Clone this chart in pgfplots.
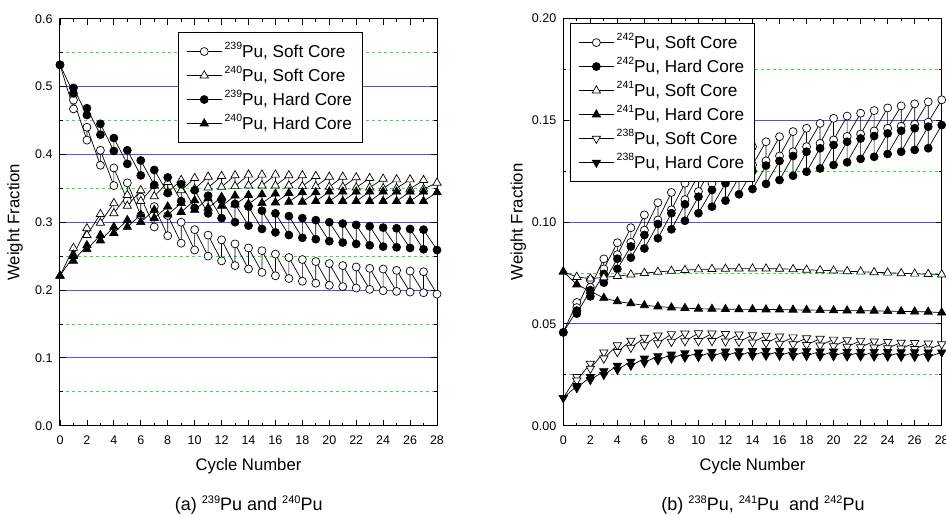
\documentclass[border=0pt]{standalone}
\usepackage{fontspec}
\setmainfont{Liberation Sans}
\usepackage{pgfplots}
\pgfplotsset{compat=1.18}
\definecolor{gridblue}{RGB}{80,80,245}
\definecolor{gridgreen}{RGB}{40,235,40}
\newcommand{\sups}[1]{\raisebox{0.42em}{\fontsize{10.5}{10.5}\selectfont #1}}
\newcommand{\supc}[1]{\raisebox{0.42em}{\fontsize{11}{11}\selectfont #1}}
\pgfplotsset{
  myax/.style={
    scale only axis, clip=false,
    xmin=0, xmax=28, xtick={0,2,...,28}, minor x tick num=1,
    minor y tick num=1,
    /pgf/number format/assume math mode=true,
    tick label style={font=\fontsize{12.5}{14}\selectfont},
    xticklabel style={yshift=-7pt},
    label style={font=\fontsize{16.7}{19}\selectfont},
    xlabel={Cycle Number}, ylabel={Weight Fraction},
    xlabel style={at={(axis description cs:0.5,0)}, anchor=center, yshift=-40pt},
    ylabel style={at={(axis description cs:-0.119,0.5)}, anchor=center},
    ymajorgrids, yminorgrids,
    major grid style={gridblue, line width=0.9pt},
    minor grid style={gridgreen, dashed, line width=0.8pt},
    major tick length=6pt, minor tick length=3pt,
    every tick/.style={black, line width=0.8pt},
    axis line style={line width=1pt},
    every axis plot/.append style={black, line width=0.7pt},
    legend cell align=left,
    legend style={font=\fontsize{17.2}{19}\selectfont, draw=black, line width=0.8pt,
      anchor=north west, inner xsep=8pt, inner ysep=7pt,
      nodes={inner sep=2.5pt, text height=15pt, text depth=4pt}},
    legend image code/.code={\draw[mark repeat=2,mark phase=2] plot coordinates {(0pt,0pt)(17.5pt,0pt)(35pt,0pt)};},
  },
  oc/.style={mark=*, mark size=4pt, mark options={fill=white, draw=black, line width=0.7pt}},
  fc/.style={mark=*, mark size=4pt, mark options={fill=black, draw=black}},
  ot/.style={mark=triangle*, mark size=4.8pt, mark options={fill=white, draw=black, line width=0.7pt}},
  ft/.style={mark=triangle*, mark size=4.8pt, mark options={fill=black, draw=black}},
  od/.style={mark=triangle*, mark size=4.8pt, mark options={fill=white, draw=black, line width=0.7pt, rotate=180}},
  fd/.style={mark=triangle*, mark size=4.8pt, mark options={fill=black, draw=black, rotate=180}},
}
\begin{document}
\begin{tikzpicture}
\useasboundingbox (0,0) rectangle (946pt,515pt);
% ---------------- panel (a)
\begin{axis}[myax, at={(60pt,89.3pt)}, anchor=south west, width=377pt, height=407pt,
  ymin=0, ymax=0.6, ytick={0,0.1,0.2,0.3,0.4,0.5,0.6},
  yticklabel style={xshift=-4pt, /pgf/number format/.cd, fixed, fixed zerofill, precision=1},
  legend style={at={(0.313,0.967)}}]
\addplot[oc] coordinates {(0,0.532) (1,0.467)(1,0.480) (2,0.421)(2,0.440) (3,0.384)(3,0.406) (4,0.354)(4,0.380) (5,0.332)(5,0.358) (6,0.310)(6,0.337) (7,0.293)(7,0.323) (8,0.280)(8,0.310) (9,0.269)(9,0.300) (10,0.259)(10,0.289) (11,0.250)(11,0.281) (12,0.243)(12,0.274) (13,0.236)(13,0.268) (14,0.231)(14,0.262) (15,0.226)(15,0.258) (16,0.221)(16,0.253) (17,0.217)(17,0.248) (18,0.213)(18,0.245) (19,0.210)(19,0.242) (20,0.207)(20,0.239) (21,0.205)(21,0.236) (22,0.203)(22,0.234) (23,0.201)(23,0.232) (24,0.199)(24,0.231) (25,0.198)(25,0.229) (26,0.197)(26,0.228) (27,0.196)(27,0.227) (28,0.194)};
\addlegendentry{\sups{239}Pu, Soft Core}
\addplot[ot] coordinates {(0,0.221) (1,0.262)(1,0.252) (2,0.291)(2,0.281) (3,0.312)(3,0.299) (4,0.328)(4,0.313) (5,0.340)(5,0.324) (6,0.347)(6,0.331) (7,0.354)(7,0.338) (8,0.359)(8,0.344) (9,0.362)(9,0.347) (10,0.365)(10,0.349) (11,0.367)(11,0.351) (12,0.368)(12,0.352) (13,0.369)(13,0.353) (14,0.370)(14,0.354) (15,0.370)(15,0.354) (16,0.370)(16,0.354) (17,0.369)(17,0.354) (18,0.369)(18,0.353) (19,0.368)(19,0.353) (20,0.367)(20,0.352) (21,0.367)(21,0.352) (22,0.366)(22,0.351) (23,0.365)(23,0.351) (24,0.364)(24,0.350) (25,0.363)(25,0.350) (26,0.363)(26,0.349) (27,0.362)(27,0.349) (28,0.358)};
\addlegendentry{\sups{240}Pu, Soft Core}
\addplot[fc] coordinates {(0,0.532) (1,0.490)(1,0.498) (2,0.458)(2,0.468) (3,0.429)(3,0.445) (4,0.405)(4,0.424) (5,0.386)(5,0.406) (6,0.369)(6,0.391) (7,0.355)(7,0.377) (8,0.343)(8,0.366) (9,0.331)(9,0.356) (10,0.321)(10,0.347) (11,0.313)(11,0.339) (12,0.306)(12,0.333) (13,0.300)(13,0.327) (14,0.295)(14,0.323) (15,0.290)(15,0.317) (16,0.285)(16,0.313) (17,0.281)(17,0.309) (18,0.277)(18,0.306) (19,0.275)(19,0.303) (20,0.272)(20,0.300) (21,0.270)(21,0.298) (22,0.268)(22,0.296) (23,0.266)(23,0.294) (24,0.264)(24,0.292) (25,0.263)(25,0.291) (26,0.262)(26,0.290) (27,0.260)(27,0.289) (28,0.259)};
\addlegendentry{\sups{239}Pu, Hard Core}
\addplot[ft] coordinates {(0,0.221) (1,0.250)(1,0.243) (2,0.266)(2,0.260) (3,0.281)(3,0.273) (4,0.293)(4,0.284) (5,0.303)(5,0.293) (6,0.311)(6,0.300) (7,0.318)(7,0.306) (8,0.323)(8,0.311) (9,0.328)(9,0.315) (10,0.332)(10,0.318) (11,0.335)(11,0.321) (12,0.337)(12,0.324) (13,0.339)(13,0.326) (14,0.340)(14,0.327) (15,0.341)(15,0.328) (16,0.342)(16,0.329) (17,0.343)(17,0.330) (18,0.344)(18,0.330) (19,0.344)(19,0.331) (20,0.345)(20,0.331) (21,0.345)(21,0.331) (22,0.345)(22,0.331) (23,0.345)(23,0.331) (24,0.345)(24,0.331) (25,0.345)(25,0.331) (26,0.345)(26,0.331) (27,0.345)(27,0.331) (28,0.344)};
\addlegendentry{\sups{240}Pu, Hard Core}
\end{axis}
% ---------------- panel (b)
\begin{axis}[myax, at={(563.3pt,89.3pt)}, anchor=south west, width=378.4pt, height=407.4pt,
  ymin=0, ymax=0.2, ytick={0,0.05,0.1,0.15,0.2},
  yticklabel style={xshift=-3.5pt, /pgf/number format/.cd, fixed, fixed zerofill, precision=2},
  legend style={at={(0.018,0.988)}}]
\addplot[oc] coordinates {(0,0.0458) (1,0.0605)(1,0.0580) (2,0.0717)(2,0.0680) (3,0.0819)(3,0.0770) (4,0.0898)(4,0.0840) (5,0.0972)(5,0.0900) (6,0.1035)(6,0.0960) (7,0.1095)(7,0.1010) (8,0.1145)(8,0.1060) (9,0.1190)(9,0.1110) (10,0.1230)(10,0.1150) (11,0.1270)(11,0.1190) (12,0.1300)(12,0.1220) (13,0.1340)(13,0.1250) (14,0.1370)(14,0.1280) (15,0.1394)(15,0.1300) (16,0.1419)(16,0.1324) (17,0.1444)(17,0.1345) (18,0.1460)(18,0.1370) (19,0.1484)(19,0.1386) (20,0.1509)(20,0.1403) (21,0.1520)(21,0.1420) (22,0.1534)(22,0.1432) (23,0.1547)(23,0.1447) (24,0.1560)(24,0.1460) (25,0.1570)(25,0.1470) (26,0.1580)(26,0.1480) (27,0.1590)(27,0.1490) (28,0.1600)};
\addlegendentry{\sups{242}Pu, Soft Core}
\addplot[fc] coordinates {(0,0.0458) (1,0.0565)(1,0.0550) (2,0.0665)(2,0.0635) (3,0.0745)(3,0.0702) (4,0.0820)(4,0.0770) (5,0.0880)(5,0.0825) (6,0.0936)(6,0.0870) (7,0.0990)(7,0.0920) (8,0.1043)(8,0.0964) (9,0.1087)(9,0.1006) (10,0.1124)(10,0.1043) (11,0.1157)(11,0.1075) (12,0.1190)(12,0.1105) (13,0.1220)(13,0.1136) (14,0.1250)(14,0.1162) (15,0.1277)(15,0.1187) (16,0.1300)(16,0.1206) (17,0.1324)(17,0.1227) (18,0.1345)(18,0.1247) (19,0.1362)(19,0.1263) (20,0.1378)(20,0.1280) (21,0.1394)(21,0.1293) (22,0.1410)(22,0.1310) (23,0.1422)(23,0.1320) (24,0.1435)(24,0.1334) (25,0.1448)(25,0.1345) (26,0.1460)(26,0.1354) (27,0.1468)(27,0.1362) (28,0.1476)};
\addlegendentry{\sups{242}Pu, Hard Core}
\addplot[ot] coordinates {(0,0.0756) (1,0.0730) (2,0.0722) (3,0.0728) (4,0.0734) (5,0.0742) (6,0.0749) (7,0.0755) (8,0.0760) (9,0.0764) (10,0.0767) (11,0.0769) (12,0.0770) (13,0.0771) (14,0.0771) (15,0.0771) (16,0.0770) (17,0.0768) (18,0.0765) (19,0.0763) (20,0.0761) (21,0.0758) (22,0.0756) (23,0.0753) (24,0.0751) (25,0.0748) (26,0.0746) (27,0.0744) (28,0.0742)};
\addlegendentry{\sups{241}Pu, Soft Core}
\addplot[ft] coordinates {(0,0.0756) (1,0.0693) (2,0.0660) (3,0.0627) (4,0.0610) (5,0.0600) (6,0.0591) (7,0.0585) (8,0.0580) (9,0.0577) (10,0.0574) (11,0.0573) (12,0.0572) (13,0.0571) (14,0.0571) (15,0.0570) (16,0.0570) (17,0.0569) (18,0.0568) (19,0.0567) (20,0.0566) (21,0.0565) (22,0.0565) (23,0.0564) (24,0.0562) (25,0.0561) (26,0.0560) (27,0.0559) (28,0.0555)};
\addlegendentry{\sups{241}Pu, Hard Core}
\addplot[od] coordinates {(0,0.0137) (1,0.0240)(1,0.0222) (2,0.0305)(2,0.0280) (3,0.0360)(3,0.0330) (4,0.0395)(4,0.0362) (5,0.0418)(5,0.0383) (6,0.0432)(6,0.0395) (7,0.0443)(7,0.0405) (8,0.0450)(8,0.0412) (9,0.0453)(9,0.0415) (10,0.0454)(10,0.0416) (11,0.0453)(11,0.0416) (12,0.0451)(12,0.0414) (13,0.0448)(13,0.0412) (14,0.0445)(14,0.0409) (15,0.0442)(15,0.0406) (16,0.0438)(16,0.0403) (17,0.0434)(17,0.0400) (18,0.0430)(18,0.0397) (19,0.0427)(19,0.0394) (20,0.0423)(20,0.0391) (21,0.0420)(21,0.0388) (22,0.0417)(22,0.0386) (23,0.0414)(23,0.0384) (24,0.0411)(24,0.0381) (25,0.0408)(25,0.0379) (26,0.0406)(26,0.0377) (27,0.0404)(27,0.0375) (28,0.0400)};
\addlegendentry{\sups{238}Pu, Soft Core}
\addplot[fd] coordinates {(0,0.0137) (1,0.0195)(1,0.0185) (2,0.0240)(2,0.0225) (3,0.0268)(3,0.0250) (4,0.0295)(4,0.0275) (5,0.0315)(5,0.0295) (6,0.0330)(6,0.0310) (7,0.0342)(7,0.0322) (8,0.0350)(8,0.0330) (9,0.0356)(9,0.0335) (10,0.0360)(10,0.0338) (11,0.0363)(11,0.0340) (12,0.0365)(12,0.0342) (13,0.0366)(13,0.0343) (14,0.0367)(14,0.0344) (15,0.0367)(15,0.0344) (16,0.0367)(16,0.0344) (17,0.0366)(17,0.0343) (18,0.0366)(18,0.0343) (19,0.0365)(19,0.0342) (20,0.0365)(20,0.0342) (21,0.0364)(21,0.0341) (22,0.0363)(22,0.0341) (23,0.0363)(23,0.0340) (24,0.0362)(24,0.0340) (25,0.0361)(25,0.0339) (26,0.0361)(26,0.0339) (27,0.0360)(27,0.0338) (28,0.0360)};
\addlegendentry{\sups{238}Pu, Hard Core}
\end{axis}
\node[font=\fontsize{18}{20}\selectfont] at (248.7pt,10pt) {(a) \supc{239}Pu and \supc{240}Pu};
\node[font=\fontsize{18}{20}\selectfont] at (763pt,10pt) {(b) \supc{238}Pu, \supc{241}Pu\ \ and \supc{242}Pu};
\end{tikzpicture}
\end{document}
